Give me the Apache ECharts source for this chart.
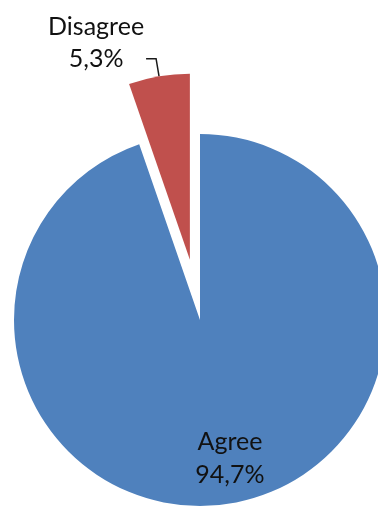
<!DOCTYPE html>
<html>
<head>
<meta charset="utf-8">
<style>
  html, body { margin: 0; padding: 0; background: #ffffff; }
  #chart { width: 378px; height: 507px; }
</style>
<script src="https://cdn.jsdelivr.net/npm/echarts@6/dist/echarts.min.js"></script>
</head>
<body>
<div id="chart"></div>
<script>
// Survey answers and their shares (percent)
const categories = ['Agree', 'Disagree'];
const shares = [94.7, 5.3];
const colors = ['#4F81BD', '#C0504D'];

const fontFamily = 'Lato, "Open Sans", sans-serif';

// Percent written with a decimal comma, e.g. 5,3%
function pct(v) {
  return String(v).replace('.', ',') + '%';
}

const pieData = categories.map(function (name, i) {
  const item = {
    name: name,
    value: shares[i],
    itemStyle: { color: colors[i] }
  };
  if (name === 'Disagree') {
    // Pulled-out slice with a leader line to its label
    item.selected = true;
    item.label = {
      show: true,
      position: 'outside',
      formatter: function (p) {
        return '{t|' + p.name + '}\n{t|' + pct(p.value) + '}';
      },
      padding: [0, 0, 32, 0],
      distanceToLabelLine: 2,
      rich: {
        t: { width: 96, align: 'center', fontSize: 25, lineHeight: 32, color: '#111111', fontFamily: fontFamily }
      }
    };
    item.labelLine = {
      show: true,
      length: 18,
      length2: 10,
      lineStyle: { color: '#1a1a1a', width: 1.5 }
    };
  } else {
    item.label = {
      show: true,
      position: 'inside',
      formatter: function (p) {
        return p.name + '\n' + pct(p.value);
      },
      fontSize: 25,
      lineHeight: 33,
      color: '#111111',
      fontFamily: fontFamily
    };
    item.labelLine = { show: false };
  }
  item.select = {
    itemStyle: { color: colors[i], borderWidth: 0 }
  };
  return item;
});

const chart = echarts.init(document.getElementById('chart'), null, { renderer: 'canvas' });
chart.setOption({
  animation: false,
  backgroundColor: '#ffffff',
  series: [{
    type: 'pie',
    center: [200, 320],
    radius: 186,
    startAngle: 90,
    clockwise: true,
    selectedMode: 'single',
    selectedOffset: 61,
    avoidLabelOverlap: false,
    silent: true,
    itemStyle: { borderWidth: 0 },
    emphasis: { disabled: true },
    // push the inside label of the large slice further toward the rim
    labelLayout: function (params) {
      if (params.dataIndex === 0) {
        return { dx: 14, dy: 44 };
      }
    },
    data: pieData
  }]
});
</script>
</body>
</html>
